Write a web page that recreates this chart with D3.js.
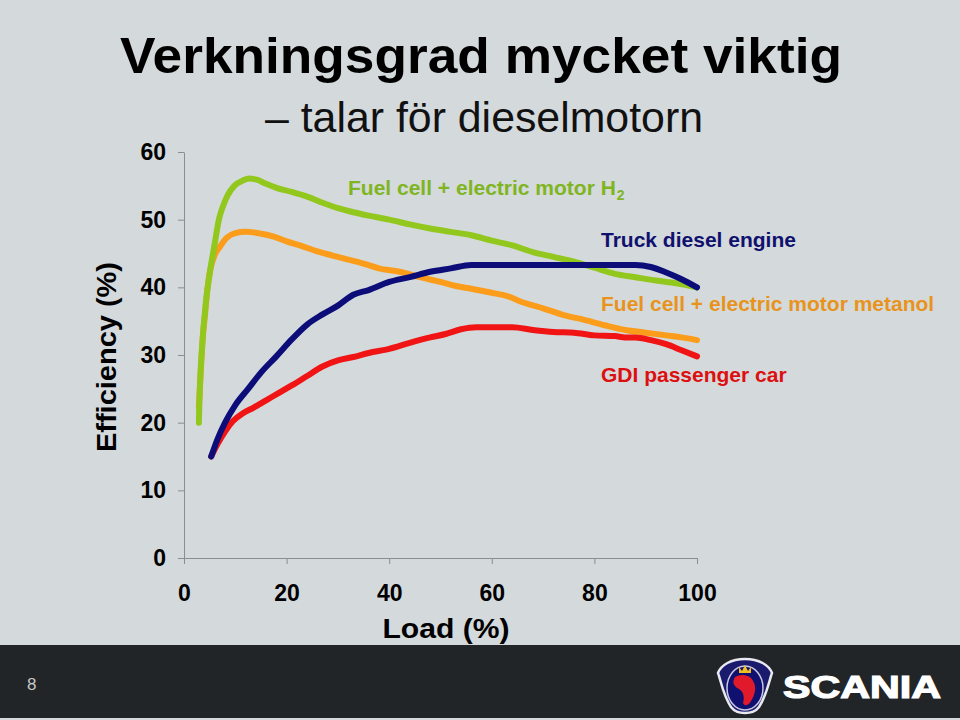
<!DOCTYPE html>
<html>
<head>
<meta charset="utf-8">
<script src="https://cdnjs.cloudflare.com/ajax/libs/d3/7.8.5/d3.min.js"></script>
<style>
  body { margin: 0; background: #d4d9dc; }
  svg { display: block; font-family: "Liberation Sans", Arial, sans-serif; }
</style>
</head>
<body>
<svg id="slide" width="960" height="720"></svg>
<script>
// values (load %, efficiency %)
var h2Cell = [[2.9,20],[3.0,23],[3.6,32],[4.3,38],[5.1,42.5],[6.0,46.5],[6.8,50],[7.6,52],[8.5,53.6],[9.8,55],[11.5,55.8],[12.7,56.1],[14.2,55.9],[16,55.3],[18,54.7],[21,54.1],[24,53.4],[27,52.5],[30,51.7],[33,51.1],[36,50.6],[40,50],[44,49.3],[48,48.7],[52,48.2],[56,47.7],[60,46.9],[64,46.2],[68,45.2],[72,44.5],[76,43.8],[80,42.9],[84,42],[88,41.5],[92,41],[96,40.6],[100,40]];
var metanolCell = [[2.9,22.3],[3.3,28],[3.6,32],[4.1,36],[4.6,40],[5.1,42.5],[6,44.8],[7,46],[8.3,47.3],[10,48],[12,48.2],[14.5,48],[17.5,47.5],[20,46.8],[23,46.1],[26,45.3],[29,44.7],[32,44.1],[35,43.5],[38,42.8],[42,42.3],[46,41.5],[50,40.8],[53,40.2],[56,39.8],[60,39.2],[63,38.7],[66,37.8],[70,36.9],[74,35.9],[78,35.2],[82,34.4],[86,33.7],[90,33.3],[94,32.9],[97,32.6],[100,32.2]];
var truckDiesel = [[5.3,15],[6.5,17.5],[8,20],[10,22.6],[12.5,25],[15,27.4],[18,29.8],[21,32.3],[24,34.5],[27,36],[30,37.3],[33,38.9],[36,39.6],[40,40.8],[44,41.5],[48,42.3],[52,42.8],[56,43.3],[60,43.3],[70,43.3],[80,43.3],[88,43.3],[91,43],[94,42.2],[97,41.2],[100,40]];
var gdiCar = [[5.3,15],[6.5,16.8],[8,18.7],[9.5,20.2],[11.5,21.4],[13.5,22.2],[16,23.3],[18.5,24.4],[21,25.5],[24,26.9],[27,28.3],[30,29.2],[33,29.7],[36,30.3],[40,30.9],[44,31.8],[48,32.6],[51,33.1],[54,33.8],[57,34.1],[60,34.1],[64,34.1],[68,33.7],[72,33.4],[76,33.3],[80,32.9],[84,32.8],[86,32.6],[88,32.6],[91,32.2],[94,31.6],[97,30.7],[100,29.8]];

var xTicks = [0, 20, 40, 60, 80, 100];
var yTicks = [0, 10, 20, 30, 40, 50, 60];

var svg = d3.select("#slide");

svg.append("rect").attr("width", 960).attr("height", 720).attr("fill", "#d4d9dc");

// title
svg.append("text").attr("x", 120).attr("y", 73).attr("font-size", 50).attr("font-weight", "bold")
  .attr("textLength", 722).attr("lengthAdjust", "spacingAndGlyphs").attr("fill", "#000")
  .text("Verkningsgrad mycket viktig");
svg.append("text").attr("x", 265).attr("y", 132).attr("font-size", 42)
  .attr("textLength", 438).attr("lengthAdjust", "spacingAndGlyphs").attr("fill", "#111")
  .text("\u2013 talar f\u00f6r dieselmotorn");

var scX = d3.scaleLinear().domain([0, 100]).range([184, 697]);
var scY = d3.scaleLinear().domain([0, 60]).range([558, 152]);

var yAxis = svg.append("g").attr("transform", "translate(184,0)")
  .call(d3.axisLeft(scY).tickValues(yTicks).tickSize(6).tickSizeOuter(0).tickPadding(12));
var xAxis = svg.append("g").attr("transform", "translate(0,558)")
  .call(d3.axisBottom(scX).tickValues(xTicks).tickSize(6).tickSizeOuter(0).tickPadding(21));

[yAxis, xAxis].forEach(function(ax) {
  ax.select(".domain").attr("stroke", "#8a8e92");
  ax.selectAll(".tick line").attr("stroke", "#8a8e92");
  ax.selectAll(".tick text").attr("font-size", 23).attr("font-weight", "bold")
    .attr("fill", "#000").attr("font-family", "Liberation Sans, Arial, sans-serif");
});

svg.append("text").attr("transform", "translate(116,357) rotate(-90)").attr("text-anchor", "middle")
  .attr("font-size", 28).attr("font-weight", "bold").attr("textLength", 190)
  .attr("lengthAdjust", "spacingAndGlyphs").text("Efficiency (%)");
svg.append("text").attr("x", 446).attr("y", 638).attr("text-anchor", "middle")
  .attr("font-size", 28).attr("font-weight", "bold").attr("textLength", 127)
  .attr("lengthAdjust", "spacingAndGlyphs").text("Load (%)");

var line = d3.line().x(d => scX(d[0])).y(d => scY(d[1])).curve(d3.curveMonotoneX);

var series = [
  {data: metanolCell, color: "#fb9d1a"},
  {data: h2Cell, color: "#92c71e"},
  {data: gdiCar, color: "#f01414"},
  {data: truckDiesel, color: "#0d0d7a"}
];

svg.selectAll("path.curve").data(series).enter().append("path").attr("class", "curve")
  .attr("d", d => line(d.data)).attr("fill", "none").attr("stroke", d => d.color)
  .attr("stroke-width", 6).attr("stroke-linecap", "round").attr("stroke-linejoin", "round");

// series labels
var h2Label = svg.append("text").attr("x", 348).attr("y", 195).attr("font-size", 21)
  .attr("font-weight", "bold").attr("fill", "#7fb51f");
h2Label.append("tspan").text("Fuel cell + electric motor H");
h2Label.append("tspan").attr("font-size", 14).attr("dy", 5).attr("dx", 1).text("2");

svg.append("text").attr("x", 601).attr("y", 247).attr("font-size", 21).attr("font-weight", "bold")
  .attr("fill", "#10106e").text("Truck diesel engine");
svg.append("text").attr("x", 601).attr("y", 311).attr("font-size", 21).attr("font-weight", "bold")
  .attr("fill", "#e8941c").text("Fuel cell + electric motor metanol");
svg.append("text").attr("x", 601).attr("y", 382).attr("font-size", 21).attr("font-weight", "bold")
  .attr("fill", "#dd1010").text("GDI passenger car");

// footer
svg.append("rect").attr("x", 0).attr("y", 645).attr("width", 960).attr("height", 73).attr("fill", "#222527");
svg.append("text").attr("x", 27).attr("y", 690).attr("font-size", 17).attr("fill", "#c8c8c8").text("8");

var logo = svg.append("g").attr("transform", "translate(745,687)");
logo.append("path")
  .attr("d", "M0,-28 C14,-28 24,-22 27,-14 C24,-6 22,8 14,20 C8,28 -8,28 -14,20 C-22,8 -24,-6 -27,-14 C-24,-22 -14,-28 0,-28 Z")
  .attr("fill", "#1b1b6e").attr("stroke", "#e8e8f0").attr("stroke-width", 2.5);
logo.append("ellipse").attr("rx", 18).attr("ry", 22).attr("cy", 1).attr("fill", "#0f1070")
  .attr("stroke", "#c8c8e0").attr("stroke-width", 1.5);
logo.append("path").attr("d", "M-6,-14 L-6,-20 L-3,-16 L0,-22 L3,-16 L6,-20 L6,-14 Z").attr("fill", "#f0c020");
logo.append("path")
  .attr("d", "M-10,-10 C-4,-14 6,-12 8,-6 C12,0 10,8 6,14 C4,18 0,20 -2,16 C0,10 -2,4 -6,2 C-10,0 -14,-4 -10,-10 Z")
  .attr("fill", "#e01a2a");
svg.append("text").attr("x", 783).attr("y", 698).attr("font-size", 31).attr("font-weight", "900")
  .attr("fill", "#ffffff").attr("textLength", 158).attr("lengthAdjust", "spacingAndGlyphs")
  .attr("stroke", "#ffffff").attr("stroke-width", 1.2).text("SCANIA");
</script>
</body>
</html>
